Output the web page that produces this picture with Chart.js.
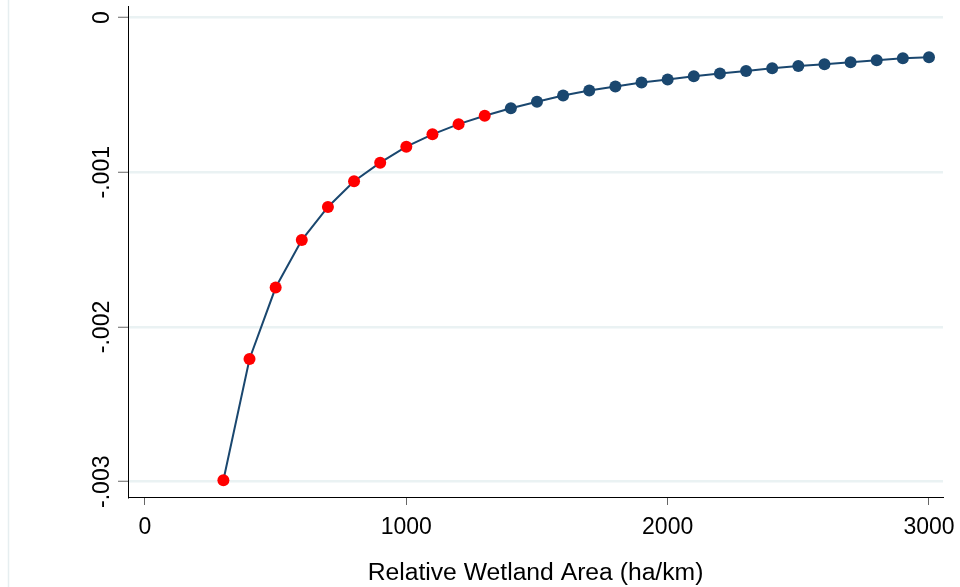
<!DOCTYPE html>
<html>
<head>
<meta charset="utf-8">
<script src="https://cdn.jsdelivr.net/npm/chart.js@4.4.0/dist/chart.umd.min.js"></script>
<style>
  html, body { margin: 0; padding: 0; background: #ffffff; }
  #wrap { width: 960px; height: 587px; }
</style>
</head>
<body>
<div id="wrap"><canvas id="c" width="960" height="587"></canvas></div>
<script>
// Relative wetland area (ha/km)
const wetlandArea = [300, 400, 500, 600, 700, 800, 900, 1000, 1100, 1200, 1300, 1400, 1500,
  1600, 1700, 1800, 1900, 2000, 2100, 2200, 2300, 2400, 2500, 2600, 2700, 2800, 2900, 3000];
// Estimated marginal effect
const effect = [-0.00299, -0.002207, -0.001745, -0.001438, -0.001224, -0.001058, -0.000938,
  -0.000835, -0.000755, -0.000689, -0.000635, -0.000586, -0.000545, -0.000504, -0.000472,
  -0.000446, -0.000420, -0.000401, -0.000380, -0.000362, -0.000345, -0.000328, -0.000313,
  -0.000302, -0.000289, -0.000276, -0.000264, -0.000257];
// Points up to this area are highlighted in red
const highlightUpTo = 1300;

const xTicks = [0, 1000, 2000, 3000];
const xTickLabels = ['0', '1000', '2000', '3000'];
const yTicks = [0, -0.001, -0.002, -0.003];
const yTickLabels = ['0', '-.001', '-.002', '-.003'];
const xTitle = 'Relative Wetland Area (ha/km)';

const NAVY = '#1a476f';
const RED = '#ff0000';
const FONT = "'Liberation Sans', Arial, sans-serif";

const points = wetlandArea.map((x, i) => ({ x: x, y: effect[i] }));
const pointColors = wetlandArea.map(x => (x <= highlightUpTo ? RED : NAVY));

const bgPlugin = {
  id: 'bg',
  beforeDraw(chart) {
    const ctx = chart.ctx;
    ctx.save();
    ctx.fillStyle = '#ffffff';
    ctx.fillRect(0, 0, chart.width, chart.height);
    ctx.strokeStyle = '#e6eef0';
    ctx.lineWidth = 1.5;
    ctx.beginPath();
    ctx.moveTo(8.5, 0);
    ctx.lineTo(8.5, chart.height);
    ctx.stroke();
    ctx.restore();
  }
};

new Chart(document.getElementById('c'), {
  type: 'line',
  data: {
    datasets: [{
      data: points,
      borderColor: NAVY,
      borderWidth: 2,
      pointBackgroundColor: pointColors,
      pointBorderColor: pointColors,
      pointRadius: 6,
      pointBorderWidth: 0,
      tension: 0,
      fill: false,
      clip: false
    }]
  },
  options: {
    responsive: false,
    animation: false,
    layout: { padding: { left: 0, right: 17, top: 0, bottom: 0 } },
    plugins: { legend: { display: false }, tooltip: { enabled: false }, title: { display: false } },
    scales: {
      x: {
        type: 'linear',
        min: -65,
        max: 3053.6,
        afterBuildTicks: s => { s.ticks = xTicks.map(v => ({ value: v })); },
        afterFit: s => {
          s.height = 90; s.paddingLeft = 0; s.paddingRight = 0;
          if (s._margins) { s._margins.left = 0; s._margins.right = 0; }
        },
        ticks: {
          callback: (v, i) => xTickLabels[i],
          font: { family: FONT, size: 23 },
          color: '#000',
          padding: 9,
          maxRotation: 0,
          minRotation: 0,
          autoSkip: false
        },
        grid: {
          drawOnChartArea: false,
          drawTicks: true,
          tickLength: 8,
          tickColor: '#666',
          tickWidth: 1
        },
        border: { display: true, color: '#000', width: 1 },
        title: {
          display: true,
          text: xTitle,
          font: { family: FONT, size: 24.7 },
          color: '#000',
          padding: { top: 0, bottom: -1 }
        }
      },
      y: {
        type: 'linear',
        min: -0.0030986,
        max: 0.00007435,
        afterBuildTicks: s => { s.ticks = yTicks.map(v => ({ value: v })); },
        afterFit: s => { s.width = 128; },
        ticks: {
          callback: (v, i) => yTickLabels[i],
          font: { family: FONT, size: 23 },
          color: '#000',
          minRotation: 90,
          maxRotation: 90,
          crossAlign: 'center',
          padding: -11,
          autoSkip: false
        },
        grid: {
          color: '#eaf2f3',
          lineWidth: 2.5,
          drawTicks: true,
          tickLength: 10,
          tickColor: '#666',
          tickWidth: 1
        },
        border: { display: true, color: '#000', width: 1 }
      }
    }
  },
  plugins: [bgPlugin]
});
</script>
</body>
</html>
